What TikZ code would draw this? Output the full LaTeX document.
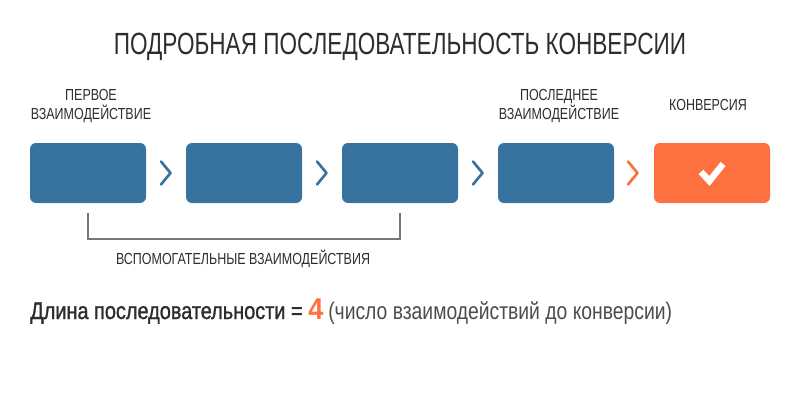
\documentclass[tikz,border=0pt]{standalone}
\usepackage{fontspec}
\setmainfont{Liberation Sans}
\newfontfamily\titlefont[FakeStretch=0.736]{Liberation Sans}
\newfontfamily\condfont[FakeStretch=0.78]{Liberation Sans}
\newfontfamily\notefont[FakeStretch=0.805]{Liberation Sans}
\newfontfamily\medfont[FakeStretch=0.83,FakeBold=1.2]{Liberation Sans}
\newfontfamily\heavyfont[FakeStretch=0.9]{Liberation Sans Bold}
\definecolor{boxblue}{RGB}{56,115,160}
\definecolor{boxorange}{RGB}{255,112,64}
\definecolor{inktext}{RGB}{45,45,45}
\definecolor{bracketgray}{RGB}{120,120,120}
\tikzset{
  stagebox/.style={rectangle,rounded corners=4.5pt,minimum width=87pt,minimum height=45pt,inner sep=0pt,fill=boxblue},
  chevron/.style={line width=2pt,line cap=round,line join=round,draw=boxblue},
  caption/.style={anchor=center,inner sep=0.75pt,align=center,text=inktext,font=\condfont\fontsize{12}{14.5}\selectfont}
}
\begin{document}
\begin{tikzpicture}[x=0.75pt,y=0.75pt,yscale=-1,xscale=1]
\useasboundingbox (0,0) rectangle (800,410);

% Title
\node (title) at (400,46.5) [inner sep=0.75pt,text=inktext,font=\titlefont\fontsize{23}{27}\selectfont] {ПОДРОБНАЯ ПОСЛЕДОВАТЕЛЬНОСТЬ КОНВЕРСИИ};

% Stages
\node (first) at (88,173) [stagebox] {};
\node (assistA) at (244,173) [stagebox] {};
\node (assistB) at (400,173) [stagebox] {};
\node (last) at (556,173) [stagebox] {};
\node (conversion) at (712,173) [stagebox,fill=boxorange] {};

% Captions
\node (firstcap) at (91,106) [caption] {ПЕРВОЕ\\ВЗАИМОДЕЙСТВИЕ};
\node (lastcap) at (559,106) [caption] {ПОСЛЕДНЕЕ\\ВЗАИМОДЕЙСТВИЕ};
\node (conversioncap) at (708,105) [caption] {КОНВЕРСИЯ};

% Chevrons
\foreach \x in {161,317,473} {
  \draw [chevron] (\x,161.5) -- (\x+9.5,173) -- (\x,184.5) ;
}
\draw [chevron,draw=boxorange] (628,161.5) -- (637.5,173) -- (628,184.5) ;

% Check mark
\draw [line width=4.8pt,white] (701,172) -- (709.5,181) -- (723,164) ;

% Bracket
\coordinate (bracketL) at (88,213);
\coordinate (bracketR) at (400,213);
\draw [line width=0.9pt,bracketgray] (bracketL) -- (88,239) -- (400,239) -- (bracketR) ;
\node (assistcap) at (243,259) [caption] {ВСПОМОГАТЕЛЬНЫЕ ВЗАИМОДЕЙСТВИЯ};

% Length line
\node (lengthtext) at (30,319) [anchor=base west,inner sep=0pt,text=inktext,font=\medfont\fontsize{18}{20}\selectfont] {Длина последовательности =};
\node (lengthval) at (308,319) [anchor=base west,inner sep=0pt,text=boxorange,font=\heavyfont\fontsize{22.5}{24}\selectfont] {4};
\node (lengthnote) at (328,319) [anchor=base west,inner sep=0pt,text=inktext!85,font=\notefont\fontsize{18}{20}\selectfont] {(число взаимодействий до конверсии)};

\end{tikzpicture}
\end{document}
